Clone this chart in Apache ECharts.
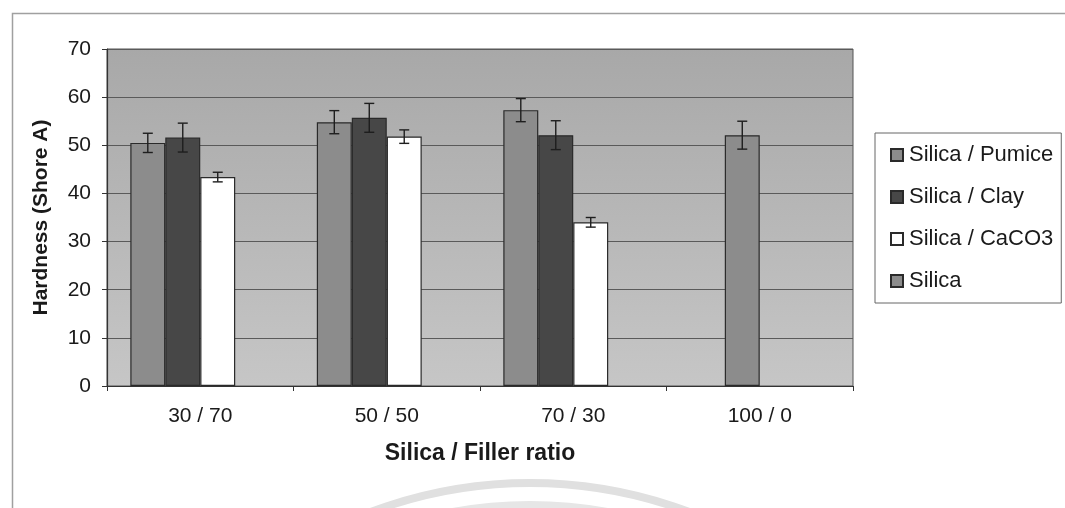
<!DOCTYPE html>
<html>
<head>
<meta charset="utf-8">
<script src="https://cdn.jsdelivr.net/npm/echarts@6/dist/echarts.min.js"></script>
<style>
html,body{margin:0;padding:0;background:#fff;}
#chart{width:1065px;height:508px;}
</style>
</head>
<body>
<div id="chart"></div>
<script>
var categories = ['30 / 70', '50 / 50', '70 / 30', '100 / 0'];
var pumice = [50.5, 54.8, 57.3, null];
var pumiceErr = [2.0, 2.4, 2.4, null];
var clay = [51.6, 55.7, 52.1, null];
var clayErr = [3.0, 3.0, 3.0, null];
var caco3 = [43.4, 51.8, 34.0, null];
var caco3Err = [1.0, 1.4, 1.0, null];
var silica = [null, null, null, 52.1];
var silicaErr = [null, null, null, 2.9];
var seriesNames = ['Silica / Pumice', 'Silica / Clay', 'Silica / CaCO3', 'Silica'];

var SLOTS = 4, CAT_GAP = 0.25;
var FONT = 'Arial, "Liberation Sans", sans-serif';

function errData(vals, errs) {
  var out = [];
  for (var i = 0; i < vals.length; i++) {
    if (vals[i] != null && errs[i] != null) out.push([i, vals[i], errs[i]]);
  }
  return out;
}

function errSeries(vals, errs, slot) {
  return {
    type: 'custom',
    z: 10,
    silent: true,
    data: errData(vals, errs),
    renderItem: function (params, api) {
      var ci = api.value(0), v = api.value(1), e = api.value(2);
      var band = api.size([1, 0])[0];
      var bw = band * (1 - CAT_GAP) / SLOTS;
      var c = api.coord([ci, v]);
      var x = c[0] - bw * SLOTS / 2 + (slot + 0.5) * bw;
      var yTop = api.coord([ci, v + e])[1];
      var yBot = api.coord([ci, v - e])[1];
      var cap = 5;
      var st = { stroke: '#1e1e1e', lineWidth: 1.4 };
      return {
        type: 'group',
        children: [
          { type: 'line', shape: { x1: x, y1: yTop, x2: x, y2: yBot }, style: st },
          { type: 'line', shape: { x1: x - cap, y1: yTop, x2: x + cap, y2: yTop }, style: st },
          { type: 'line', shape: { x1: x - cap, y1: yBot, x2: x + cap, y2: yBot }, style: st }
        ]
      };
    }
  };
}

var barBorder = { borderColor: '#2a2a2a', borderWidth: 1.2 };

var chart = echarts.init(document.getElementById('chart'));
chart.setOption({
  backgroundColor: '#ffffff',
  animation: false,
  textStyle: { fontFamily: FONT },
  graphic: [
    { type: 'rect', left: 10, top: 11, shape: { width: 1100, height: 600 }, style: { fill: 'none', stroke: '#a0a0a0', lineWidth: 1.5 }, z: -10 },
    { type: 'arc', shape: { cx: 530, cy: 935, r: 452, startAngle: Math.PI * 1.3, endAngle: Math.PI * 1.7 }, style: { stroke: '#e0e0e0', lineWidth: 8, fill: 'none' }, z: -10 },
    { type: 'arc', shape: { cx: 530, cy: 935, r: 430, startAngle: Math.PI * 1.3, endAngle: Math.PI * 1.7 }, style: { stroke: '#e6e6e6', lineWidth: 8, fill: 'none' }, z: -10 }
  ],
  grid: {
    left: 107, top: 49, right: 212, bottom: 122,
    show: true,
    borderColor: '#555',
    borderWidth: 1,
    backgroundColor: new echarts.graphic.LinearGradient(0, 0, 0, 1, [
      { offset: 0, color: '#a8a8a8' },
      { offset: 1, color: '#c6c6c6' }
    ])
  },
  legend: {
    orient: 'vertical',
    left: 875, top: 133,
    padding: [11, 8, 11, 15],
    itemGap: 20,
    itemWidth: 12, itemHeight: 12,
    icon: 'rect',
    backgroundColor: '#fff',
    borderColor: '#666', borderWidth: 1,
    textStyle: { fontSize: 22, color: '#1a1a1a', fontFamily: FONT, padding: [0, 0, 0, 1] },
    data: seriesNames
  },
  xAxis: {
    type: 'category',
    data: categories,
    name: 'Silica / Filler ratio',
    nameLocation: 'middle',
    nameGap: 56,
    nameTextStyle: { fontSize: 23, fontWeight: 'bold', color: '#1a1a1a', fontFamily: FONT },
    axisLine: { lineStyle: { color: '#333', width: 1.2 } },
    axisTick: { show: true, length: 5, lineStyle: { color: '#333' } },
    axisLabel: { fontSize: 21, color: '#1a1a1a', margin: 20, fontFamily: FONT },
    splitLine: { show: false }
  },
  yAxis: {
    type: 'value',
    min: 0, max: 70, interval: 10,
    name: 'Hardness (Shore A)',
    nameLocation: 'middle',
    nameGap: 55,
    nameTextStyle: { fontSize: 21, fontWeight: 'bold', color: '#1a1a1a', fontFamily: FONT },
    axisLine: { show: true, lineStyle: { color: '#333', width: 1.2 } },
    axisTick: { show: true, length: 5, lineStyle: { color: '#333' } },
    axisLabel: { fontSize: 21, color: '#1a1a1a', margin: 16, fontFamily: FONT },
    splitLine: { show: true, lineStyle: { color: '#5a5a5a', width: 1 } }
  },
  series: [
    { name: seriesNames[0], type: 'bar', stack: 's0', data: pumice, barGap: '0%', barCategoryGap: '25%', itemStyle: Object.assign({ color: '#8c8c8c' }, barBorder) },
    { name: seriesNames[1], type: 'bar', stack: 's1', data: clay, itemStyle: Object.assign({ color: '#474747' }, barBorder) },
    { name: seriesNames[3], type: 'bar', stack: 's1', data: silica, itemStyle: Object.assign({ color: '#8c8c8c' }, barBorder) },
    { name: seriesNames[2], type: 'bar', stack: 's2', data: caco3, itemStyle: Object.assign({ color: '#ffffff' }, barBorder) },
    { name: 'pad', type: 'bar', stack: 's3', data: [null, null, null, null], itemStyle: { color: 'transparent' } },
    errSeries(pumice, pumiceErr, 0),
    errSeries(clay, clayErr, 1),
    errSeries(silica, silicaErr, 1),
    errSeries(caco3, caco3Err, 2)
  ]
});
</script>
</body>
</html>
